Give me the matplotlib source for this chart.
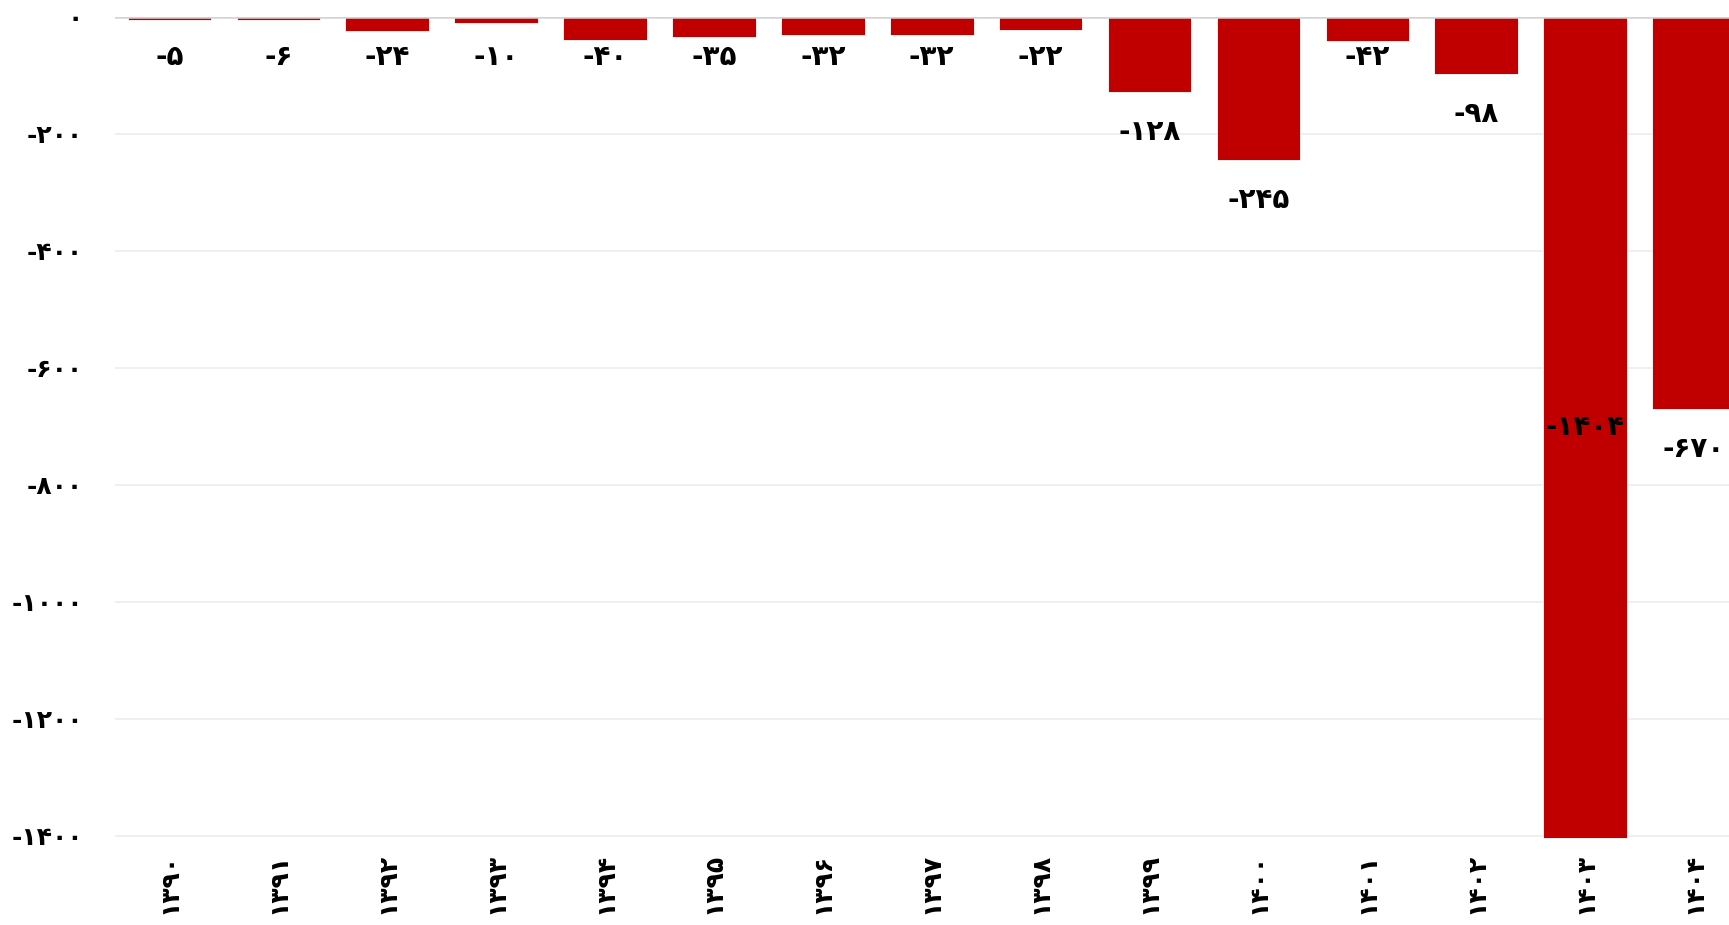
import matplotlib
matplotlib.use('Agg')
import matplotlib.pyplot as plt

# Annual values (negative), years in Solar Hijri calendar
years = [1390, 1391, 1392, 1393, 1394, 1395, 1396, 1397, 1398, 1399,
         1400, 1401, 1402, 1403, 1404]
values = [-5, -6, -24, -10, -40, -35, -32, -32, -22, -128,
          -245, -42, -98, -1404, -670]
y_ticks = [0, -200, -400, -600, -800, -1000, -1200, -1400]

PERSIAN = str.maketrans('0123456789', '۰۱۲۳۴۵۶۷۸۹')


def fa(n):
    return str(n).translate(PERSIAN)


plt.rcParams['font.family'] = ['DejaVu Sans']
plt.rcParams['font.weight'] = 'bold'

fig = plt.figure(figsize=(17.29, 9.25), dpi=100)
fig.patch.set_facecolor('white')
# axes run slightly past the right edge of the canvas
ax = fig.add_axes([115 / 1729, 0.0934, 1633.5 / 1729, 0.982 - 0.0934])

x = list(range(len(years)))
bars = ax.bar(x, values, width=0.767, color='#c00000', edgecolor='white',
              linewidth=0.6, zorder=3)

ymin = -1405
ax.set_ylim(ymin, 0)
ax.set_xlim(-0.5, len(years) - 0.5)

ax.set_yticks(y_ticks)
ax.set_yticklabels([fa(t) if t == 0 else '-' + fa(-t) for t in y_ticks],
                   fontsize=18, fontweight='bold')
ax.set_xticks(x)
ax.set_xticklabels([fa(y) for y in years], rotation=90, fontsize=18,
                   fontweight='bold', va='top')
ax.tick_params(axis='y', length=0, pad=23)
ax.tick_params(axis='x', length=0, pad=10)

# horizontal grid, zero line a bit darker
ax.yaxis.grid(True, color='#ececec', linewidth=1.2, zorder=0)
ax.axhline(0, color='#d4d4d4', linewidth=1.8, zorder=4)
for side in ['left', 'right', 'top', 'bottom']:
    ax.spines[side].set_visible(False)

# value labels under each bar; short bars get the label just under the
# zero line, very long bars get it in the middle of the bar
for xi, v in zip(x, values):
    text = '-' + fa(-v)
    label_y = v - 40 / 0.585
    if label_y < ymin:
        ax.text(xi, v / 2, text, ha='center', va='center', fontsize=20,
                fontweight='bold', color='black', zorder=5)
    else:
        anchor = 0 if v > -60 else v
        ax.annotate(text, (xi, anchor), xytext=(0, -28.8), textcoords='offset points',
                    ha='center', va='center', fontsize=20, fontweight='bold',
                    color='black', zorder=5, annotation_clip=False)

plt.savefig('out.png', dpi=100, facecolor='white')
plt.close()
